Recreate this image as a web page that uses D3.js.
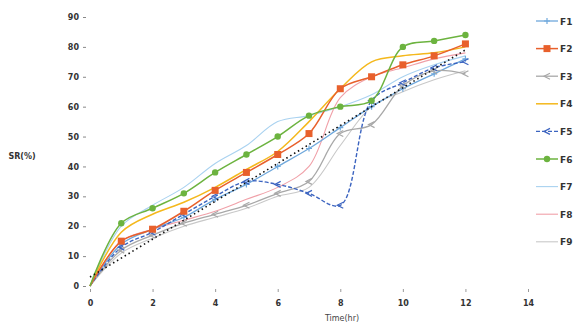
<!DOCTYPE html>
<html>
<head>
<meta charset="utf-8">
<script src="https://cdn.jsdelivr.net/npm/d3@7"></script>
<style>
  body { margin: 0; background: #fff; }
  svg { display: block; }
  text { font-family: "DejaVu Sans", sans-serif; }
</style>
</head>
<body>
<svg id="chart" width="576" height="329"></svg>
<script>
// Sampling hours
const hours = [0, 1, 2, 3, 4, 5, 6, 7, 8, 9, 10, 11, 12];

// Series values (%) per formulation
const F1 = [0, 14, 19, 23, 29, 34, 40, 46, 53, 60, 66, 71, 76];
const F2 = [0, 15, 19, 25, 32, 38, 44, 51, 66, 70, 74, 77, 81];
const F3 = [0, 12, 17, 21, 24, 27, 31, 35, 51, 54, 67, 72, 71];
const F4 = [0, 18, 24, 28, 33, 39, 45, 55, 66, 75, 77, 78, 80];
const F5 = [0, 13, 18, 24, 30, 35, 34, 31, 27, 62, 68, 73, 75];
const F6 = [0, 21, 26, 31, 38, 44, 50, 57, 60, 62, 80, 82, 84];
const F7 = [0, 20, 27, 33, 41, 47, 55, 57, 60, 64, 70, 74, 77];
const F8 = [0, 15, 19, 22, 25, 29, 33, 40, 63, 70, 73, 76, 78];
const F9 = [0, 11, 16, 20, 23, 26, 30, 33, 47, 60, 65, 69, 72];

// Linear trend line end points
const trendX = [0, 12];
const trendY = [3, 79];

const seriesNames = ["F1", "F2", "F3", "F4", "F5", "F6", "F7", "F8", "F9"];
const xTicks = [0, 2, 4, 6, 8, 10, 12, 14];
const yTicks = [0, 10, 20, 30, 40, 50, 60, 70, 80, 90];
const xTitle = "Time(hr)";
const yTitle = "SR(%)";

const seriesData = [F1, F2, F3, F4, F5, F6, F7, F8, F9];
const styles = [
  { color: "#6fa8dc", width: 1.3, dash: null, marker: "plus" },
  { color: "#e8602c", width: 1.5, dash: null, marker: "square" },
  { color: "#a8a8a8", width: 1.3, dash: null, marker: "lt" },
  { color: "#f4b81c", width: 1.5, dash: null, marker: "none" },
  { color: "#3c64c0", width: 1.4, dash: "4,2", marker: "lt" },
  { color: "#6cb33f", width: 1.5, dash: null, marker: "circle" },
  { color: "#a9d2f0", width: 1.1, dash: null, marker: "none" },
  { color: "#f0a0a8", width: 1.1, dash: null, marker: "none" },
  { color: "#c8c8c8", width: 1.1, dash: null, marker: "none" }
];

const svg = d3.select("#chart");

const x = d3.scaleLinear().domain([0, 14]).range([90, 528]);
const y = d3.scaleLinear().domain([0, 90]).range([286, 17]);

// Y axis: labels with small tick marks, no domain line
const yAxis = svg.append("g")
  .attr("transform", "translate(86,0)")
  .call(d3.axisLeft(y).tickValues(yTicks).tickSize(3).tickPadding(4));
yAxis.select(".domain").remove();
yAxis.selectAll("line").attr("stroke", "#888");
yAxis.selectAll("text").attr("font-size", 8).attr("fill", "#333").attr("font-weight", "bold");

// X axis
const xAxis = svg.append("g")
  .attr("transform", "translate(0,289)")
  .call(d3.axisBottom(x).tickValues(xTicks).tickSize(3).tickPadding(8));
xAxis.select(".domain").remove();
xAxis.selectAll("line").attr("stroke", "#999");
xAxis.selectAll("text").attr("font-size", 8).attr("fill", "#333").attr("font-weight", "bold");

// Axis titles
svg.append("text")
  .attr("x", 342).attr("y", 321)
  .attr("text-anchor", "middle")
  .attr("font-size", 8).attr("fill", "#444")
  .text(xTitle);
svg.append("text")
  .attr("x", 22).attr("y", 159)
  .attr("text-anchor", "middle")
  .attr("font-size", 8).attr("fill", "#333").attr("font-weight", "bold")
  .text(yTitle);

const line = d3.line()
  .x((d, i) => x(hours[i]))
  .y(d => y(d))
  .curve(d3.curveCatmullRom.alpha(0.5));

const plot = svg.append("g");

// Draw lighter series first so the marked ones sit on top
const order = [6, 7, 8, 0, 2, 4, 3, 1, 5];
order.forEach(k => {
  const s = styles[k];
  plot.append("path")
    .datum(seriesData[k])
    .attr("fill", "none")
    .attr("stroke", s.color)
    .attr("stroke-width", s.width)
    .attr("stroke-dasharray", s.dash)
    .attr("d", line);
});

function drawMarker(g, type, cx, cy, color) {
  if (type === "square") {
    g.append("rect").attr("x", cx - 3.5).attr("y", cy - 3.5)
      .attr("width", 7).attr("height", 7).attr("fill", color);
  } else if (type === "circle") {
    g.append("circle").attr("cx", cx).attr("cy", cy).attr("r", 3.2).attr("fill", color);
  } else if (type === "plus") {
    g.append("path").attr("d", `M${cx - 3},${cy}H${cx + 3}M${cx},${cy - 3}V${cy + 3}`)
      .attr("stroke", color).attr("stroke-width", 1.2);
  } else if (type === "lt") {
    g.append("path").attr("d", `M${cx + 3},${cy - 3}L${cx - 3},${cy}L${cx + 3},${cy + 3}`)
      .attr("fill", "none").attr("stroke", color).attr("stroke-width", 1.2);
  }
}

order.forEach(k => {
  const s = styles[k];
  if (s.marker === "none") return;
  const g = plot.append("g");
  seriesData[k].forEach((v, i) => {
    if (i === 0) return;
    drawMarker(g, s.marker, x(hours[i]), y(v), s.color);
  });
});

// Dotted linear trend line
plot.append("line")
  .attr("x1", x(trendX[0])).attr("y1", y(trendY[0]))
  .attr("x2", x(trendX[1])).attr("y2", y(trendY[1]))
  .attr("stroke", "#111")
  .attr("stroke-width", 1.6)
  .attr("stroke-dasharray", "1.5,3");

// Legend
const legend = svg.append("g");
seriesNames.forEach((name, k) => {
  const s = styles[k];
  const ly = 21 + k * 27.6;
  const g = legend.append("g");
  g.append("line")
    .attr("x1", 536).attr("x2", 558).attr("y1", ly).attr("y2", ly)
    .attr("stroke", s.color).attr("stroke-width", s.width)
    .attr("stroke-dasharray", s.dash);
  drawMarker(g, s.marker, 547, ly, s.color);
  g.append("text")
    .attr("x", 560).attr("y", ly + 3.5)
    .attr("font-size", 9).attr("font-weight", "bold").attr("fill", "#333")
    .text(name);
});
</script>
</body>
</html>
